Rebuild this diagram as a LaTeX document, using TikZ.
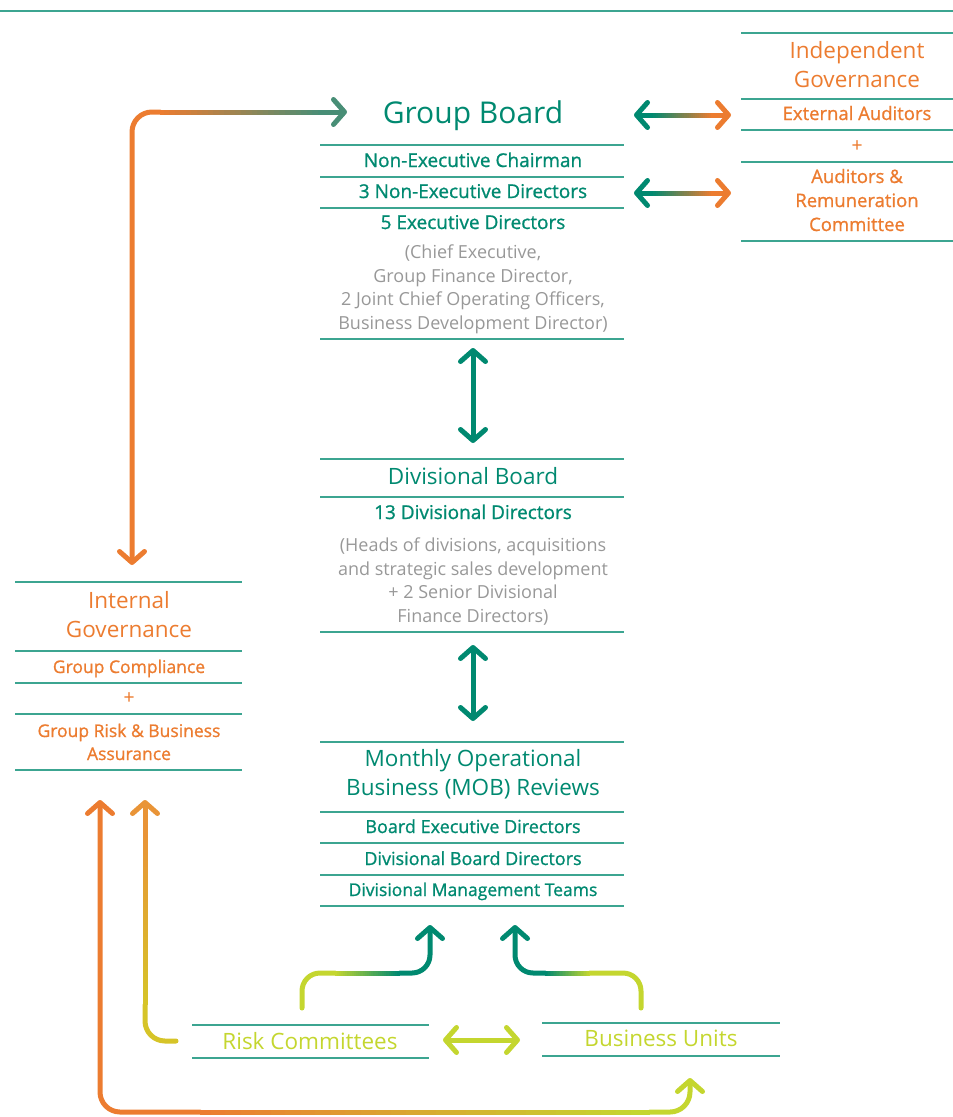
\documentclass[tikz,border=0pt]{standalone}
\usepackage{fontspec}
\setmainfont{Open Sans}
\newfontfamily\itemfont[FakeBold=1.0]{Open Sans}
\usetikzlibrary{arrows.meta, calc, positioning}

\definecolor{boardteal}{RGB}{0, 137, 112}
\definecolor{boardgray}{RGB}{72, 142, 118}
\definecolor{ruleteal}{RGB}{60, 165, 145}
\definecolor{govorange}{RGB}{236, 124, 48}
\definecolor{notegray}{RGB}{152, 152, 152}
\definecolor{unitlime}{RGB}{196, 214, 47}
\definecolor{riskgold}{RGB}{233, 148, 55}
\definecolor{riskyellow}{RGB}{214, 196, 40}

\tikzset{
  chev/.tip={Straight Barb[length=11pt, width=25pt, round]},
  flow/.style={line width=5pt, line cap=round, line join=round},
  rule/.style={ruleteal, line width=1.4pt},
  gbtitle/.style={text=boardteal, font=\fontsize{30}{34}\selectfont, inner sep=0pt},
  midtitle/.style={align=center, font=\fontsize{22.5}{29}\selectfont, inner sep=0pt},
  item/.style={text=boardteal, align=center, font=\itemfont\fontsize{19}{23}\selectfont, inner sep=0pt},
  oitem/.style={text=govorange, align=center, font=\itemfont\fontsize{18.5}{24}\selectfont, inner sep=0pt},
  note/.style={text=notegray, align=center, font=\fontsize{18}{23.5}\selectfont, inner sep=0pt}
}

% straight stroke that blends from one colour into another
\newcommand{\fadeline}[4]{%
  \foreach \k in {0,...,29} {
    \pgfmathsetmacro{\mixpct}{100-\k*100/29}
    \draw[flow, line cap=butt, color={#3!\mixpct!#4}]
      ($(#1)!{max(0,(\k-0.3)/30)}!(#2)$) -- ($(#1)!{(\k+1)/30}!(#2)$);
  }%
}

\begin{document}
\begin{tikzpicture}[x=1pt, y=-1pt]
  \useasboundingbox (0,0) rectangle (953,1117);

  % header rule
  \draw[rule] (0,11) -- (953,11);

  % Group Board (multi-line nodes sit on their last baseline)
  \node[gbtitle, anchor=base] (gb) at (473,123) {Group Board};
  \foreach \y in {145,177,208,339} \draw[rule] (320,\y) -- (624,\y);
  \node[item, anchor=base] (gbchair) at (473,167) {Non-Executive Chairman};
  \node[item, anchor=base] (gbned) at (473,198) {3 Non-Executive Directors};
  \node[item, anchor=base] (gbed) at (473,229) {5 Executive Directors};
  \node[note, anchor=base] (gbnote) at (473,329)
    {(Chief Executive,\\Group Finance Director,\\2 Joint Chief Operating Officers,\\Business Development Director)};

  % Divisional Board
  \foreach \y in {459,497,632} \draw[rule] (320,\y) -- (624,\y);
  \node[midtitle, text=boardteal, anchor=base] (db) at (473,484) {Divisional Board};
  \node[item, anchor=base] (dbdir) at (473,519) {13 Divisional Directors};
  \node[note, anchor=base] (dbnote) at (473,622)
    {(Heads of divisions, acquisitions\\and strategic sales development\\+ 2 Senior Divisional\\Finance Directors)};

  % MOB reviews
  \foreach \y in {742,812,843,875,906} \draw[rule] (320,\y) -- (624,\y);
  \node[midtitle, text=boardteal, anchor=base] (mob) at (473,795) {Monthly Operational\\Business (MOB) Reviews};
  \node[item, font=\itemfont\fontsize{18}{22}\selectfont, anchor=base] (mobexec) at (473,833) {Board Executive Directors};
  \node[item, font=\itemfont\fontsize{18}{22}\selectfont, anchor=base] (mobdiv) at (473,865) {Divisional Board Directors};
  \node[item, font=\itemfont\fontsize{17.5}{22}\selectfont, anchor=base] (mobteam) at (473,896) {Divisional Management Teams};

  % Independent governance
  \foreach \y in {33,99,130,162,241} \draw[rule] (741,\y) -- (953,\y);
  \node[midtitle, text=govorange, anchor=base] (indep) at (857,87) {Independent\\Governance};
  \node[oitem, anchor=base] (extaud) at (857,120) {External Auditors};
  \node[oitem] (indplus) at (857,146) {+};
  \node[oitem, anchor=base] (remco) at (857,231) {Auditors \&\\Remuneration\\Committee};

  % Internal governance
  \foreach \y in {582,651,683,714,770} \draw[rule] (15,\y) -- (242,\y);
  \node[midtitle, text=govorange, anchor=base] (intgov) at (129,637) {Internal\\Governance};
  \node[oitem, font=\itemfont\fontsize{17.5}{23}\selectfont, anchor=base] (comp) at (129,673) {Group Compliance};
  \node[oitem] (intplus) at (129,698) {+};
  \node[oitem, font=\itemfont\fontsize{17.5}{23}\selectfont, anchor=base] (gra) at (129,760) {Group Risk \& Business\\Assurance};

  % Risk committees and business units
  \draw[rule] (192,1025) -- (429,1025) (192,1058) -- (429,1058);
  \draw[rule] (542,1023) -- (780,1023) (542,1056) -- (780,1056);
  \node[midtitle, text=unitlime, anchor=base] (risk) at (310,1049) {Risk Committees};
  \node[midtitle, text=unitlime, anchor=base] (units) at (661,1046) {Business Units};

  % Group Board <-> internal governance
  \coordinate (gb-in) at (347,112);
  \coordinate (ig-in) at (132,565);
  \draw[flow, govorange, rounded corners=20pt, -chev] (160,112) -- (132,112) -- (ig-in);
  \fadeline{160,112}{325,112}{govorange}{boardgray}
  \draw[flow, boardgray, -chev] (325,112) -- (gb-in);

  % external governance links
  \foreach \y in {115,193} {
    \coordinate (ext-l) at (634,\y);
    \coordinate (ext-r) at (731,\y);
    \draw[flow, boardteal, -chev] (652,\y) -- (ext-l);
    \fadeline{652,\y}{714,\y}{boardteal}{govorange}
    \draw[flow, govorange, -chev] (714,\y) -- (ext-r);
  }

  % board chain
  \draw[flow, boardteal, chev-chev] (473,348) -- (473,443);
  \draw[flow, boardteal, chev-chev] (473,645) -- (473,721);

  % risk committees <-> business units
  \draw[flow, unitlime, chev-chev] (443,1040) -- (520,1040);

  % feeds into MOB reviews
  \draw[flow, unitlime, rounded corners=18pt] (302,1008) -- (302,973) -- (335,973);
  \fadeline{335,973}{400,973}{unitlime}{boardteal}
  \draw[flow, boardteal, rounded corners=18pt, -chev] (400,973) -- (430,973) -- (430,925);
  \draw[flow, unitlime, rounded corners=18pt] (641,1008) -- (641,973) -- (590,973);
  \fadeline{590,973}{545,973}{unitlime}{boardteal}
  \draw[flow, boardteal, rounded corners=18pt, -chev] (545,973) -- (515,973) -- (515,925);

  % risk committees -> internal governance
  \draw[flow, riskyellow, rounded corners=20pt] (176,1041) -- (145,1041) -- (145,1005);
  \fadeline{145,1005}{145,830}{riskyellow}{riskgold}
  \draw[flow, riskgold, -chev] (145,830) -- (145,800);

  % internal governance <-> business units
  \draw[flow, govorange, rounded corners=20pt, -chev] (200,1112) -- (100,1112) -- (100,800);
  \fadeline{200,1112}{650,1112}{govorange}{unitlime}
  \draw[flow, unitlime, rounded corners=20pt, -chev] (650,1112) -- (690,1112) -- (690,1078);
\end{tikzpicture}
\end{document}
